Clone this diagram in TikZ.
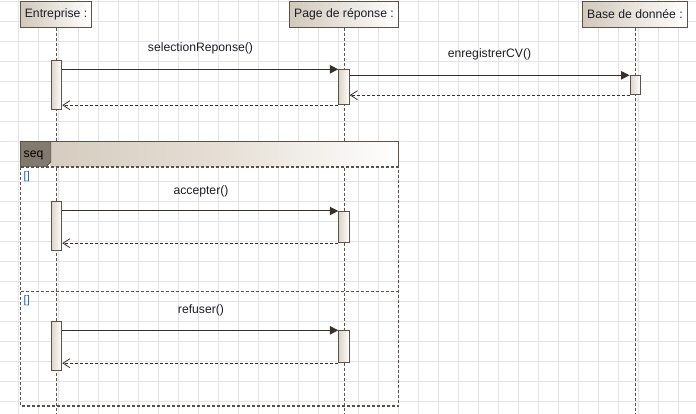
\documentclass[tikz,border=0pt]{standalone}
\usepackage{fontspec}
\setmainfont{Liberation Sans}
\usetikzlibrary{arrows.meta}

\definecolor{gridc}{HTML}{E4E4E4}
\definecolor{edge}{HTML}{5C5249}
\definecolor{msg}{HTML}{3A302A}
\definecolor{shadeA}{HTML}{D2C8BB}
\definecolor{bandA}{HTML}{D6CCBF}
\definecolor{bandB}{HTML}{E6DFD6}
\definecolor{barA}{HTML}{DCD4CA}
\definecolor{seqfill}{HTML}{82796F}
\definecolor{txt}{HTML}{1E1E28}
\definecolor{guard}{HTML}{1F5FA8}

\tikzset{
  head/.style={draw=edge, line width=0.9pt, left color=shadeA, right color=white,
    minimum height=25.7pt, inner xsep=4.4pt, inner ysep=0pt, text=txt,
    font=\fontsize{12.2}{14}\selectfont},
  bar/.style={draw=edge, line width=0.9pt, left color=barA, right color=white,
    minimum width=10.6pt, inner sep=0pt, anchor=north},
  life/.style={draw=edge, line width=0.9pt, dash pattern=on 3pt off 2pt},
  call/.style={draw=msg, line width=1pt, -{Triangle[length=8.5pt,width=8.5pt]}},
  ret/.style={draw=msg, line width=0.9pt, dash pattern=on 3pt off 2pt,
    -{Straight Barb[length=7pt,width=9pt,line width=0.8pt]}},
  lbl/.style={text=txt, inner sep=0pt, font=\fontsize{12.2}{14}\selectfont},
  frameline/.style={draw=edge, line width=1.3pt},
  framedash/.style={draw=edge, line width=1.3pt, dash pattern=on 3pt off 2pt},
  guardtxt/.style={text=guard, inner sep=0pt, font=\fontsize{11}{12}\selectfont}
}

\begin{document}
\begin{tikzpicture}[x=1pt,y=-1pt]
  % page and background grid
  \fill[white] (0,0) rectangle (696,414);
  \useasboundingbox (0,0) rectangle (696,414);
  \foreach \gx in {-2,18,...,698} \draw[gridc, line width=0.9pt] (\gx,0) -- (\gx,414);
  \foreach \gy in {1.5,21.5,...,414} \draw[gridc, line width=0.9pt] (0,\gy) -- (696,\gy);

  % participants
  \node[head, anchor=north west] (ent) at (20,1) {Entreprise :};
  \node[head, anchor=north west] (page) at (289.3,1) {Page de réponse :};
  \node[head, anchor=north west] (base) at (582.3,1) {Base de donnée :};

  % lifelines
  \coordinate (entEnd) at (56.5,414);
  \coordinate (pageEnd) at (344,414);
  \coordinate (baseEnd) at (635.5,414);
  \draw[life] (ent.south -| entEnd) -- (entEnd);
  \draw[life] (page.south -| pageEnd) -- (pageEnd);
  \draw[life] (base.south -| baseEnd) -- (baseEnd);

  % combined fragment "seq": header band shaded beige to white
  \shade[left color=bandA, right color=bandB] (50.7,141.7) rectangle (225,167);
  \shade[left color=bandB, right color=white] (225,141.7) rectangle (398.3,167);
  \fill[seqfill] (20.7,141.7) -- (50.7,141.7) -- (50.7,162) -- (45.7,167) -- (20.7,167) -- cycle;
  \draw[edge, line width=0.9pt] (50.7,141.7) -- (50.7,162) -- (45.7,167);
  \node[lbl, anchor=west, text=black] (seqlbl) at (23.5,155) {seq};
  \draw[frameline] (20.7,167) -- (20.7,141.7) -- (398.3,141.7) -- (398.3,167);
  \draw[framedash] (20.7,167) -- (398.3,167);
  \draw[framedash] (20.7,167) -- (20.7,406) -- (398.3,406) -- (398.3,167);
  \draw[framedash] (20.7,291.7) -- (398.3,291.7);
  \node[guardtxt, anchor=north west] (g1) at (23.5,171) {[]};
  \node[guardtxt, anchor=north west] (g2) at (23.5,295.5) {[]};

  % activation bars
  \node[bar, minimum height=48.7pt] (e1) at (56.5,60.3) {};
  \node[bar, minimum height=35pt] (p1) at (344,69.3) {};
  \node[bar, minimum height=19pt] (b1) at (635.3,75.3) {};
  \node[bar, minimum height=49pt] (e2) at (56.5,201) {};
  \node[bar, minimum height=31.3pt] (p2) at (344,211) {};
  \node[bar, minimum height=49pt] (e3) at (56.5,321.3) {};
  \node[bar, minimum height=32pt] (p3) at (344,330.3) {};

  % messages
  \draw[call] (e1.east |- p1.north) -- (p1.north west);
  \draw[ret] (p1.south west) -- (e1.east |- p1.south);
  \draw[call] (p1.east |- b1.north) -- (b1.north west);
  \draw[ret] (b1.south west) -- (p1.east |- b1.south);
  \draw[call] (e2.east |- p2.north) -- (p2.north west);
  \draw[ret] (p2.south west) -- (e2.east |- p2.south);
  \draw[call] (e3.east |- p3.north) -- (p3.north west);
  \draw[ret] (p3.south west) -- (e3.east |- p3.south);

  % message labels
  \node[lbl] (m1) at (200.5,48) {selectionReponse()};
  \node[lbl] (m2) at (489.5,54) {enregistrerCV()};
  \node[lbl] (m3) at (201,191) {accepter()};
  \node[lbl] (m4) at (201,310) {refuser()};
\end{tikzpicture}
\end{document}
